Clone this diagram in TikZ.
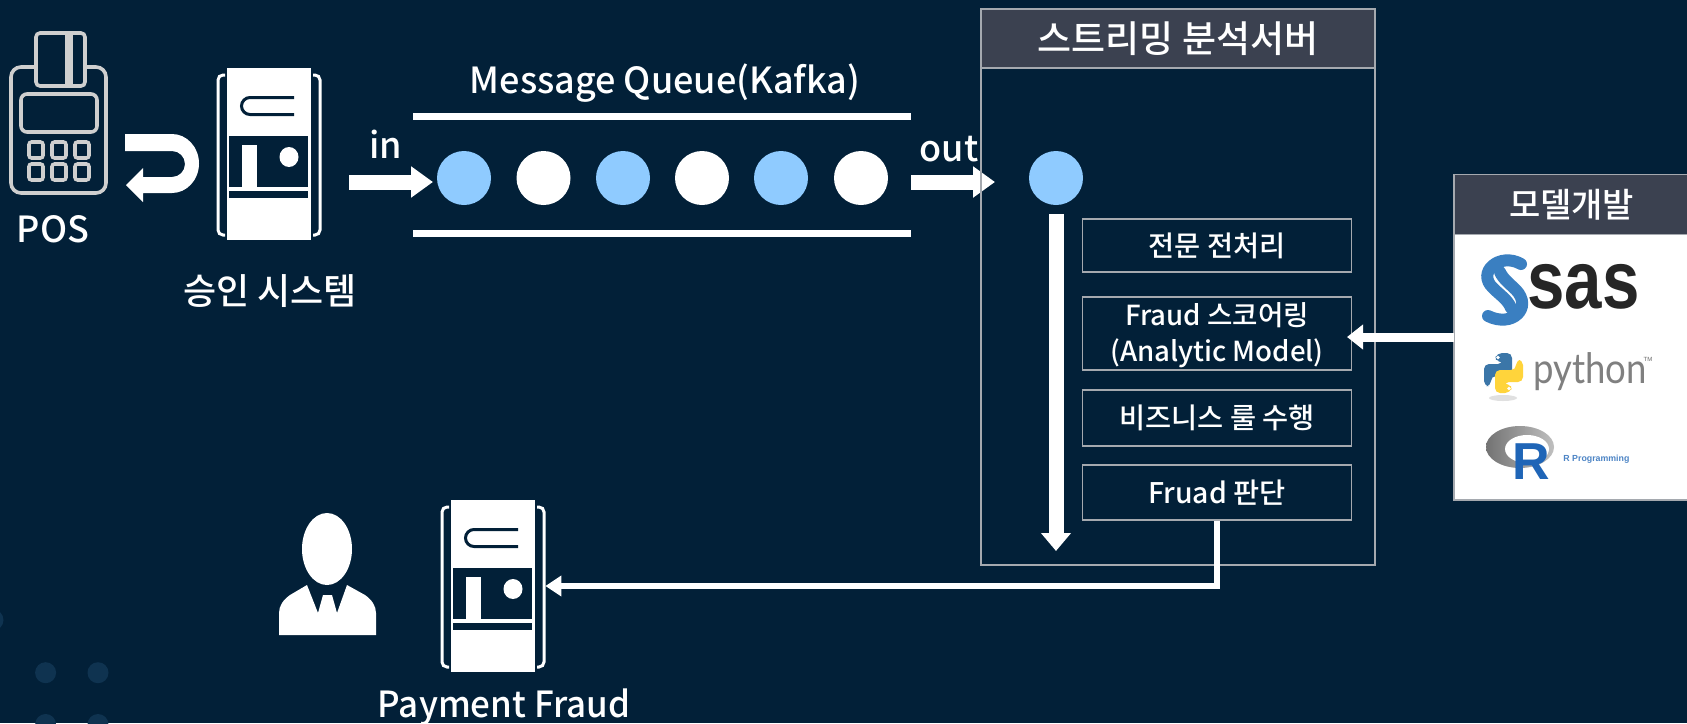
\documentclass[tikz,border=0pt]{standalone}
\usepackage{fontspec}
\usepackage{graphicx}
\usetikzlibrary{arrows.meta}
\setmainfont{Noto Sans CJK KR Medium}
\newfontfamily\logofont{Liberation Sans}
\newfontfamily\pyfont{Lato}
\definecolor{bgc}{HTML}{022038}
\definecolor{dotc}{HTML}{8FCBFF}
\definecolor{hdrc}{HTML}{3B4150}
\definecolor{edgec}{HTML}{A5A9AF}
\definecolor{posc}{HTML}{CFCFCF}
\definecolor{decoc}{HTML}{0F3350}
\definecolor{sasb}{HTML}{3A7FC1}
\definecolor{pyb}{HTML}{3B76A8}
\definecolor{pyy}{HTML}{FFD43B}
\definecolor{rb}{HTML}{1F65B7}
\tikzset{
 x=0.5pt,y=-0.5pt,
 lbl/.style={inner sep=0pt,text=white,font=\fontsize{18}{22}\selectfont,align=center},
 dotb/.style={circle,fill=dotc,minimum size=27pt,inner sep=0pt},
 dotw/.style={circle,fill=white,minimum size=27pt,inner sep=0pt},
 stepbox/.style={draw=edgec,line width=0.7pt,text=white,minimum width=134.5pt,inner sep=0pt,align=center,font=\fontsize{14.2}{19}\selectfont},
 hdr/.style={draw=edgec,line width=0.7pt,fill=hdrc,text=white,inner sep=0pt,font=\fontsize{18.5}{22}\selectfont},
 bigarrow/.style={draw=white,line width=7.5pt,-{Triangle[length=11pt,width=15pt,fill=white]}},
 midarrow/.style={draw=white,line width=4.5pt,-{Triangle[length=8pt,width=12pt,fill=white]}},
 thinarrow/.style={draw=white,line width=3pt,-{Triangle[length=8pt,width=10pt,fill=white]}},
 rail/.style={draw=white,line width=3.5pt}
}
\newcommand{\srvicon}[2]{%
 \begin{scope}[shift={(#1,#2)}]
  \draw[white,line width=1.5pt,rounded corners=2.5pt] (225,75)--(218,75)--(218,235)--(225,235);
  \draw[white,line width=1.5pt,rounded corners=2.5pt] (313,75)--(320,75)--(320,235)--(313,235);
  \fill[white] (227,68) rectangle (311,240);
  \draw[bgc,line width=1.5pt] (294,97.5)--(250,97.5) arc[start angle=-90,end angle=-270,x radius=8.5,y radius=8.5]--(294,114.5);
  \fill[bgc] (229,136) rectangle (308,198);
  \fill[white] (229,187) rectangle (308,191);
  \fill[white] (242,145) rectangle (257,187);
  \fill[white] (289,157) ellipse[x radius=9.5,y radius=10];
 \end{scope}}
\begin{document}
\begin{tikzpicture}
\useasboundingbox (0,0) rectangle (1687,723);
\fill[bgc] (0,0) rectangle (1687,723);
% background decoration
\foreach \cx/\cy in {-7/620,45.6/672.7,98/672.7,45.6/724.5,98/724.5}
  \fill[decoc] (\cx,\cy) circle[radius=10.5];
% POS
\begin{scope}[draw=posc,line width=1.8pt]
 \draw[rounded corners=5pt] (11,67) rectangle (106,193);
 \fill[bgc] (35,60) rectangle (85,86);
 \draw[rounded corners=2pt,fill=bgc] (36,33) rectangle (85,86);
 \fill[posc] (65,33) rectangle (73,86);
 \draw[rounded corners=3pt] (21,94) rectangle (97,132);
 \foreach \kx in {36,59,82}\foreach \ky in {150,172}
  \draw[rounded corners=1.3pt] (\kx-7,\ky-8) rectangle (\kx+7,\ky+8);
\end{scope}
\node[lbl] (pos) at (53,229) {POS};
% return arrow
\fill[white] (125,134)--(172,134) arc[start angle=-90,end angle=90,x radius=27,y radius=29.5]--(143,193)--(143,202)--(126,185)--(143,168)--(143,177)--(172,177) arc[start angle=90,end angle=-90,radius=13]--(125,151)--cycle;
% servers
\srvicon{0}{0}
\srvicon{224}{432}
\node[minimum width=52pt,minimum height=86pt,inner sep=0pt] (sv1) at (269,154) {};
\node[minimum width=52pt,minimum height=86pt,inner sep=0pt] (sv2) at (493,586) {};
\node[lbl] (svl) at (270,291) {승인 시스템};
\node[lbl] (pay) at (504,707) {\scalebox{0.97}[1]{Payment Fraud}};
% queue
\node[lbl] (mq) at (665,83) {Message Queue(Kafka)};
\coordinate (r1a) at (413,116); \coordinate (r1b) at (911,116);
\coordinate (r2a) at (413,233.5); \coordinate (r2b) at (911,233.5);
\draw[rail] (r1a)--(r1b);
\draw[rail] (r2a)--(r2b);
\node[dotb] (d1) at (464,178) {};
\node[dotw] (d2) at (543.5,178) {};
\node[dotb] (d3) at (623,178) {};
\node[dotw] (d4) at (702,178) {};
\node[dotb] (d5) at (781,178) {};
\node[dotw] (d6) at (861,178) {};
\node[lbl] (in) at (386,144) {in};
\node[lbl] (out) at (949,149) {out};
\coordinate (ins) at (349,182);
\coordinate (ine) at (433,182);
\coordinate (outs) at (911,182);
\coordinate (oute) at (995,182);
\draw[bigarrow] (ins)--(ine);
\draw[bigarrow] (outs)--(oute);
% stream server
\node[draw=edgec,line width=0.7pt,minimum width=197pt,minimum height=278pt,inner sep=0pt] (srvbox) at (1178,287) {};
\node[hdr,minimum width=197pt,minimum height=29.5pt] (srvh) at (1178,38.5) {스트리밍 분석서버};
\node[dotb] (d7) at (1056,178) {};
\coordinate (vs) at (1056,214);
\coordinate (ve) at (1056,551);
\draw[bigarrow,-{Triangle[length=9pt,width=14.5pt,fill=white]}] (vs)--(ve);
\node[stepbox,minimum height=26.5pt] (b1) at (1217,245.5) {전문 전처리};
\node[stepbox,minimum height=36.5pt] (b2) at (1217,333.5) {};
\node[stepbox,draw=none,minimum height=0pt,font=\fontsize{13.8}{18}\selectfont] (b2t) at (1217,335.5) {Fraud 스코어링\\(Analytic Model)};
\node[stepbox,minimum height=28pt] (b3) at (1217,418) {비즈니스 룰 수행};
\node[stepbox,minimum height=27.5pt] (b4) at (1217,492.5) {Fruad 판단};
% model box
\fill[white] (1454,234) rectangle (1687,500);
\node[minimum width=116.5pt,minimum height=163pt,inner sep=0pt] (mbox) at (1570.5,337) {};
\draw[edgec,line width=0.7pt] (1687,500)--(1454,500)--(1454,174);
\node[hdr,minimum width=120pt,minimum height=30pt,anchor=north west,text width=116.5pt,align=center,font=\fontsize{17}{20}\selectfont] (mh) at (1454,174) {\hspace*{-3pt}모델개발};
% connectors
\coordinate (mt) at (1347,337);
\draw[midarrow] (mbox.west |- mt)--(mt);
\draw[thinarrow] (b4.south) |- (sv2.east);
% person
\fill[white] (327,549) ellipse[x radius=25,y radius=36];
\fill[white] (307,585)--(290,595) .. controls (283,600) and (279,606) .. (279,613)--(279,635)--(376,635)--(376,613) .. controls (376,606) and (372,600) .. (365,595)--(347,585)--(337,613)--(332,595)--(323,595)--(318,613)--cycle;
% SAS logo
\draw[sasb,line width=6pt,line cap=round] (1521,264) .. controls (1500,252) and (1476,272) .. (1493,288) .. controls (1500,295) and (1508,300) .. (1511,308);
\draw[sasb,line width=6pt,line cap=round] (1488,316) .. controls (1512,328) and (1533,308) .. (1516,290) .. controls (1510,284) and (1503,279) .. (1500,272);
\node[anchor=base west,inner sep=0pt,text=black!85] (sas) at (1527,308) {\logofont\fontsize{41}{41}\selectfont\bfseries\scalebox{0.82}[1]{sas}};
% python logo
\fill[black!12] (1503,398) ellipse[x radius=14,y radius=3];
\newcommand{\pysnake}{(1497,353)--(1512,353)--(1512,376)--(1491,376)--(1491,386)--(1484,386)--(1484,364)--(1503,364)--(1503,361)--(1494,361)--cycle}
\fill[pyb,rounded corners=2.5pt] \pysnake;
\fill[pyy,rounded corners=2.5pt,rotate around={180:(1503.5,373)}] \pysnake;
\fill[white] (1498,357.5) circle[radius=1.8];
\fill[white] (1509,388.5) circle[radius=1.8];
\node[anchor=base west,inner sep=0pt,text=black!50] (py) at (1533,383) {\pyfont\fontsize{21}{21}\selectfont\scalebox{0.87}[1]{python}};
\node[anchor=center,inner sep=0pt,text=black!60] (tm) at (1648,359) {\logofont\fontsize{3}{3}\selectfont TM};
% R logo
\shade[left color=black!55,right color=black!25] (1520,447) ellipse[x radius=34,y radius=21];
\fill[white] (1527,449) ellipse[x radius=22,y radius=14];
\node[anchor=base west,inner sep=0pt,text=rb] (rl) at (1512,479) {\logofont\fontsize{26}{26}\selectfont\bfseries R};
\node[anchor=west,inner sep=0pt,text=rb!80] (rp) at (1563,459) {\logofont\fontsize{4.4}{5}\selectfont\bfseries R Programming};
\end{tikzpicture}
\end{document}
